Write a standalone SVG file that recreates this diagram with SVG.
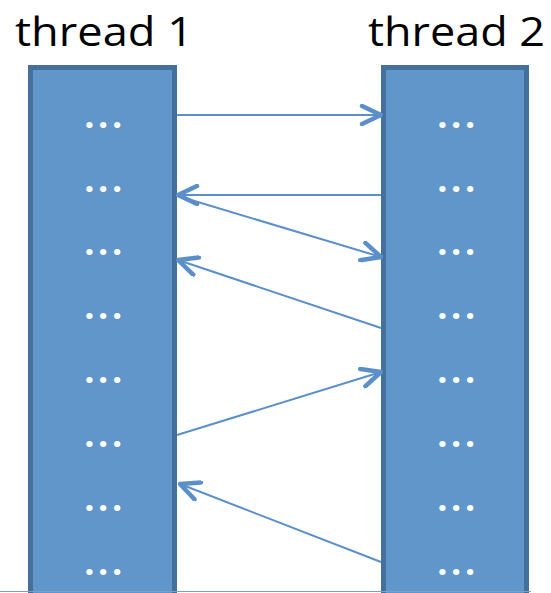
<svg xmlns="http://www.w3.org/2000/svg" width="551" height="593" viewBox="0 0 551 593">
  <style>
    .title { font-family: "Open Sans", "Liberation Sans", sans-serif; font-size: 40px; fill: #000; }
    .lane { fill: #6096c9; stroke: #46709c; stroke-width: 5; }
    .dots { font-family: "Open Sans", "Liberation Sans", sans-serif; font-weight: bold; font-size: 36px; fill: #fff; text-anchor: middle; letter-spacing: 3.5px; }
    .msg { stroke: #5b8fca; stroke-width: 2; fill: none; }
    .head { stroke: #5b8fca; stroke-width: 4.5; fill: none; stroke-linecap: round; stroke-linejoin: round; }
  </style>
  <defs>
    <marker id="chevron" viewBox="-22 -11 24 22" markerWidth="24" markerHeight="22" refX="0" refY="0" orient="auto" markerUnits="userSpaceOnUse">
      <path class="head" d="M-19,-9 L0,0 L-19,9"/>
    </marker>
  </defs>
  <rect width="551" height="593" fill="#fff"/>

  <g id="thread1">
    <text class="title" x="15" y="46" textLength="178" lengthAdjust="spacingAndGlyphs">thread 1</text>
    <rect class="lane" x="30.5" y="67.5" width="144" height="540"/>
    <g class="dots">
      <text x="105" y="128">...</text>
      <text x="105" y="192">...</text>
      <text x="105" y="255">...</text>
      <text x="105" y="319">...</text>
      <text x="105" y="383">...</text>
      <text x="105" y="447">...</text>
      <text x="105" y="511">...</text>
      <text x="105" y="575">...</text>
    </g>
  </g>

  <g id="thread2">
    <text class="title" x="368" y="46" textLength="177" lengthAdjust="spacingAndGlyphs">thread 2</text>
    <rect class="lane" x="383.5" y="67.5" width="143" height="540"/>
    <g class="dots">
      <text x="458" y="128">...</text>
      <text x="458" y="192">...</text>
      <text x="458" y="255">...</text>
      <text x="458" y="319">...</text>
      <text x="458" y="383">...</text>
      <text x="458" y="447">...</text>
      <text x="458" y="511">...</text>
      <text x="458" y="575">...</text>
    </g>
  </g>

  <g id="connectors">
    <line class="msg" x1="177" y1="115" x2="381" y2="115" marker-end="url(#chevron)"/>
    <line class="msg" x1="381" y1="195" x2="178" y2="195" marker-end="url(#chevron)"/>
    <line class="msg" x1="178" y1="196" x2="381" y2="257" marker-end="url(#chevron)"/>
    <line class="msg" x1="381" y1="328" x2="178" y2="260" marker-end="url(#chevron)"/>
    <line class="msg" x1="177" y1="435" x2="381" y2="372" marker-end="url(#chevron)"/>
    <line class="msg" x1="381" y1="562" x2="180" y2="484" marker-end="url(#chevron)"/>
  </g>

  <line x1="0" y1="591.5" x2="531" y2="591.5" stroke="#7d9fc4" stroke-width="1"/>
</svg>
